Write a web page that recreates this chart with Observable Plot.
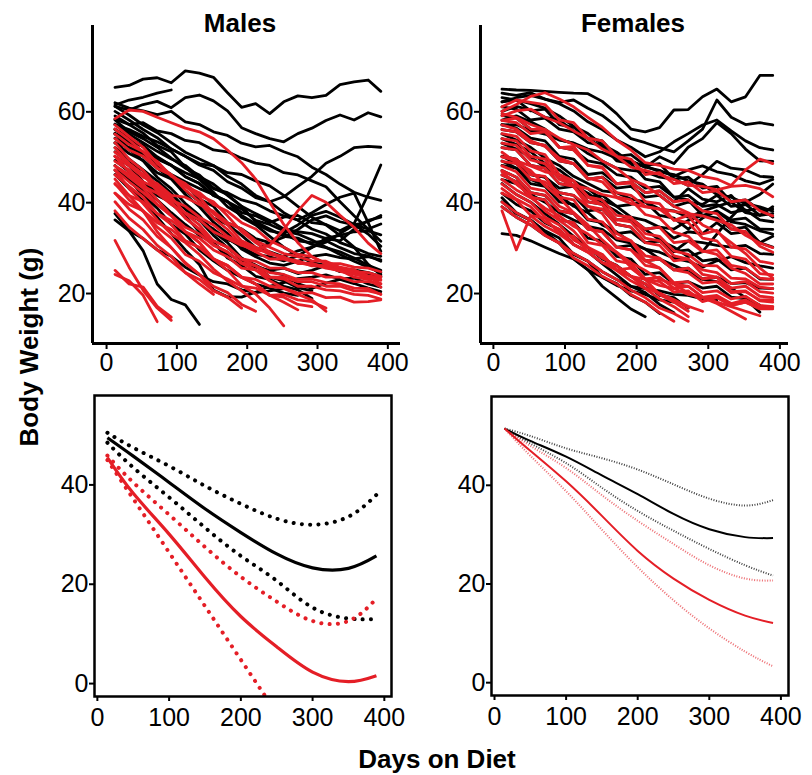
<!DOCTYPE html>
<html><head><meta charset="utf-8">
<script src="https://cdn.jsdelivr.net/npm/d3@7"></script>
<script src="https://cdn.jsdelivr.net/npm/@observablehq/plot@0.6"></script>
<style>
html,body{margin:0;padding:0;background:#fff;}
#root{position:relative;width:812px;height:775px;overflow:hidden;font-family:"Liberation Sans",Arial,sans-serif;background:#fff;}
.panel{position:absolute;}
.lbl{position:absolute;font-weight:bold;font-size:26px;line-height:1;color:#000;white-space:nowrap;}
</style></head><body><div id="root"></div>
<script>
// ---------- data ----------
const days = [12,32,52,72,92,112,132,152,172,192,212,232,252,272,292,312,332,352,372,390];
const xTicks = [0,100,200,300,400];
const yTicksTop = [20,40,60];
const yTicksBottom = [0,20,40];

const maleBlack = [
[65.4,65.8,67.2,67.5,66.4,69,68.5,67.6,64.2,61,61.8,59.6,62.2,63.5,63.1,63.6,66,66.6,67,64.5],
[61.5,62.6,63.2,64.1,64.8],
[61.2,60.4,61.6,62.3,60.9,63.1,63.7,62.4,60.2,56.5,55.2,54.1,53.4,55.2,56.4,58.1,59.3,58.2,59.8,58.9],
[62,60.8,60.2,59.4,60.1,57.8,57.2,55.6,54.8,53.1,52.3,52.6,51.2,50.1,47.8,46.2,44.1,42.3,41.2,40.5],
[57.2,56.1,54.6,53.4,51.8,50.2,48.3,47.1,44.6,43.2,41.1,40.2,41.3,43.6,45.8,48.7,50.2,52.1,52.4,52.2],
[55.3,53.6,52.4,49.8,48.3,45.7,44.2,41.6,40.2,37.8,37.1,35.6,36.8,37.2,35.6,35.2,33.8,35.4,41.8,48.3],
[58.4,57.2,57.6,55.8,55.2,53.7,53.2,51.6,51.2,49.8,48.7,48.2,46.6,46.1,44.8,43.5,40.2,37.1,34.2,31.5],
[37.6,33.8,29.4,22.1,18.7,17.5,13.2],
[46.2,43.1,40.4,36.8,33.2,29.6,26.4,20.8,19.3,19.2,20.3,21.6,22.4,23.3,23.6,24.1,23.2,23.4,22.1,21.4],
[59.1,57.2,55.3,52.6,51.2,47.8,45.1,42.3,39.1,37.2,35.3,33.8,33.2,31.6,31.2,31.6,30.1,28.8,28.3,27.1],
[56.2,54.1,52.3,49.6,48.2,45.7,44.2,41.6,40.3,36.8,35.1,32.6,30.2,28.4,26.8,26.2,25.4,25.1,24.2,23.6],
[55.1,53.2,50.6,48.4,45.8,44.1,40.8,39.2,35.6,34.2,32.1,31.2,32.4,34.1,36.2,37.1,35.8,35.1,34.2,35.3],
[54.2,51.6,50.2,47.6,45.3,42.6,40.2,36.6,35.2,32.8,30.1,29.2,28.1,29.4,30.2,31.3,33.2,35.1,35.8,37.2],
[57.3,55.1,53.2,51.3,49.6,48.2,45.7,44.1,41.6,39.2,35.8,34.2,32.6,32.2,30.8,30.1,29.2,27.8,26.2,25.1],
[53.2,50.8,49.3,46.6,45.2,41.8,39.1,35.7,33.2,29.8,28.1,26.7,26.2,27.1,28.2,28.6,27.9,27.6,28.1,27.4],
[52.1,49.6,47.2,44.8,42.1,38.6,36.2,32.8,30.1,27.6,26.2,24.8,24.1,22.2,21.1,22.3,23.1,22.2,21.2,20.4],
[50.2,48.1,44.6,42.2,39.8,37.1,33.6,31.2,27.8,26.2,23.8,23.1,21.6,20.8,18.9],
[55.2,51.8,49.2,45.6,43.1,39.8,37.2,33.6,31.2,27.8,26.2,23.6,22.8,21.3,20.6],
[60.1,58.2,56.1,54.3,51.8,50.2,48.6,48.1,46.6,46.2,44.8,43.7,41.6,39.2,36.8,35.1,32.8,30.2,26.4,24.1],
[61.2,59.3,57.1,55.4,53.2,51.1,49.6,48.2,45.8,44.1,41.6,40.2,37.8,36.1,34.2,33.1,31.2,30.1,28.8,28.2],
[49.3,46.8,44.2,41.6,40.1,37.6,36.2,33.8,32.1,30.2,28.6,28.1,27.2,28.3,30.1,32.2,32.8,33.6,33.8,32.9],
[36.2,33.8,32.1,29.6,28.2,25.8,24.1,22.6,22.1,20.8,20.2,20.6,21.1],
[47.1,45.2,42.8,40.6,37.8,35.2,32.8,31.1,28.6,27.2,25.8,25.1,25.6,24.4,25.1,26.2,24.8,25.2,24.6,23.8],
[51.2,48.8,47.1,43.6,41.2,38.6,36.1,34.2,31.8,31.1,29.6,31.2,33.4,35.1,37.2,38.1,36.8,35.2,33.1,30.4],
[53.1,52.2,50.8,48.1,46.2,44.6,43.1,41.8,40.2,38.6,36.1,35.2,33.8,33.1,31.8,30.2,28.6,27.1,25.8,24.6],
[58.2,55.6,54.1,52.2,49.8,47.6,46.1,43.2,41.8,39.2,37.6,36.1,34.2,33.6,33.2,32.1,31.6,34.2,36.1,36.8],
[48.2,45.1,41.6,38.8,35.2,33.1,29.6,27.2,25.1,23.6,22.1,21.2,20.1,19.6],
[56.1,54.2,52.6,50.1,48.2,46.6,45.2,43.1,42.2,40.6,39.8,38.2,37.1,36.2,37.8,39.6,41.2,42.1,35.6,29.3]
];

const maleRed = [
[58.5,60.4,60.1,58.8,57.6,56.4,55.6,54.1,51.6,48.8,45.2,40.1,35.2,31.2,28.1,26.6,25.4,24.6,23.4,22.9],
[48.1,46.2,43.6,42.1,39.6,37.8,36.2,33.6,32.1,30.6,29.8,30.6,34.1,38.2,41.6,40.1,37.2,34.6,31.1,28.8],
[25.1,22.1,21.4,17.2,14.8],
[24.2,22.8,19.6,13.8],
[31.7,25.8,20.7,16.8,14.1],
[50.2,46.8,44.1,40.6,37.2,33.6,31.2,27.6,25.1,21.8,19.9,16.8,12.9],
[52.1,48.6,46.2,42.8,40.1,36.6,34.2,30.8,29.1,26.6,25.2,22.8,21.1,19.8,18.6,16.1],
[45.2,41.6,38.2,33.6,30.1,26.8,24.2,20.6,19.2],
[49.1,47.2,44.6,43.1,40.6,39.2,36.8,35.1,32.6,31.2,29.6,29.1,27.8,27.2,26.1,26.2,25.1,25.2,23.8,23.6],
[47.2,44.6,42.2,39.6,37.2,34.6,33.1,30.6,29.2,26.8,26.1,24.6,24.2,23.1,23.2,22.4,22.1,21.2,21.1,19.8],
[55.1,52.8,51.2,47.6,46.1,42.8,40.2,36.6,34.1,30.8,29.2,27.6,27.6,26.8,26.6,25.8,25.6,24.8,24.6,23.8],
[44.2,40.6,38.1,34.6,32.2,28.6,27.1,24.6,23.2,21.6,21.2,19.6,19.8,18.6,18.2,16.8],
[50.2,48.1,45.6,44.2,41.6,41.2,39.6,38.1,35.6,34.2,31.6,30.2,28.8,28.1,27.2,27.1,25.8,25.2,23.8,22.1],
[42.1,38.6,36.2,32.6,30.1,26.6,24.2,21.6,20.2,17.6,16.1],
[46.1,43.6,41.2,37.6,35.2,31.6,30.1,27.6,26.2,23.6,23.1,21.6,21.2,20.1,20.2,19.1,19.2,18.1,18.2,18.6],
[40.2,36.6,34.1,30.6,28.2,24.6,22.1,19.8],
[53.2,49.6,47.1,43.6,41.2,37.6,35.1,31.6,30.2,27.6,26.1,23.6,23.2,21.6,21.6,20.8,20.6,19.8,19.6,18.8],
[48.1,45.6,43.2,39.6,37.1,33.6,31.2,27.6,26.1,23.6,22.1,19.6,19.2,17.6,17.1],
[57.1,54.6,52.2,48.6,46.1,43.6,42.2,39.6,38.1,35.6,34.2,31.6,30.2,28.6,28.1,26.6,26.6,25.8,25.6,24.8],
[44.1,41.6,40.2,37.6,36.1,33.6,32.2,29.6,28.1,25.6,25.2,23.6,23.6,22.6,22.6,21.6,21.6,20.6,20.6,19.9],
[51.1,48.6,46.2,42.6,40.1,36.6,34.2,31.6,30.2,27.6,27.1,25.6,25.6,24.6,24.6,23.6,23.6,22.6,22.6,22.2],
[38.2,34.6,32.1,29.6,27.1,24.6,23.1,20.6,19.2,16.8],
[42.1,39.6,38.2,35.6,34.1,31.6,30.2,27.6,26.1,23.6,22.1,19.6,18.1,16.4],
[54.1,51.6,50.2,47.6,46.1,43.6,41.2,37.6,35.1,31.6,30.2,28.6,28.1,26.6,26.6,25.6,25.1,23.6,23.1,21.4],
[47.2,43.1,39.8,36.2,33.1,31.2,28.6,25.4,22.8,20.6,18.2],
[56.2,53.8,51.2,49.1,45.8,44.2,41.6,40.2,37.1,33.6,31.2,29.1,27.6,26.8,26.2,25.8,24.9,24.2,23.6,23.1]
];

const femaleBlack = [
[65,64.8,64.7,64.5,64.3,64.1,64,62.3,59.6,56.2,55.6,56.5,60.4,60.5,63.3,65,62.2,63.3,68,68],
[64.1,63.6,64.2,62.8,62.1,62.6,60.8,59.2,56.8,54.1,53.2,52.1,51.2,53.6,56.2,62.6,58.8,57.2,57.6,57.1],
[62.2,63.1,63.6,62.8,61.8,60.2,57.8,56.1,53.8,52.2,50.1,51.2,53.4,55.2,57.1,58.2,55.8,53.6,52.1,51.6],
[60.1,61.2,60.4,58.8,58.2,55.8,54.1,52.2,49.6,49.2,47.8,50.1,48.6,52.2,54.1,57.6,55.2,51.8,49.2,49.1],
[58.2,59.1,57.8,56.2,53.8,53.1,50.8,49.2,47.6,47.1,46.8,45.6,45.2,43.8,46.2,49.1,47.6,47.2,45.8,45.6],
[63.1,62.6,60.2,60.6,57.2,56.6,54.2,53.6,50.2,50.6,48.2,48.6,45.2,45.6,43.2,43.6,40.2,40.6,38.4,38.6],
[57.2,56.4,54.2,53.6,50.2,49.6,46.2,46.6,44.2,44.6,42.2,42.6,40.2,43.1,40.8,40.2,41.6,38.2,38.8,36.8],
[55.1,53.8,52.2,49.8,48.2,45.8,44.2,42.6,42.2,40.8,40.2,38.6,38.2,36.8,38.1,39.2,40.1,37.8,37.2,39.1],
[50.2,49.6,46.2,45.6,43.2,43.6,41.2,41.6,39.2,39.6,40.2,37.2,36.6,34.2,36.6,38.2,36.2,36.6,34.2,34.1],
[52.1,51.6,48.2,47.6,44.2,43.6,40.2,39.6,36.2,36.6,34.2,34.6,32.2,33.6,33.2,35.6,33.2,33.6,31.2,32.6],
[48.2,47.6,44.2,43.6,40.2,39.6,36.2,35.6,33.2,33.6,31.2,31.6,29.2,31.6,31.2,30.6,30.2,30.6,28.8,28.6],
[54.1,52.8,51.2,48.6,47.2,44.8,43.1,40.6,39.2,36.8,36.1,34.6,34.2,36.1,37.2,38.1,35.8,35.2,33.8,33.1],
[33.2,32.8,31.6,30.2,28.8,27.6,25.2,23.6,21.8,20.6,19.8,18.6,18.1],
[46.1,44.6,41.2,40.6,36.2,35.6,32.2,31.6,28.2,27.6,24.2,24.6,22.2,22.6,21.2,21.6,19.2,18.8,15.9],
[44.2,41.8,40.1,37.6,35.2,32.6,30.1,27.6,26.2,23.8,22.1,19.6,19.1,16.8],
[42.1,39.6,38.2,35.6,34.1,30.8,29.2,26.6,24.1,21.6,20.2,17.6,15.8],
[40.2,37.6,36.1,33.8,32.2,28.6,27.1,23.6,22.2,19.6,18.1,15.6],
[41.1,37.8,36.2,33.6,31.1,27.6,25.2,21.6,19.1,16.6,14.9],
[56.1,55.6,53.2,52.6,49.2,48.6,45.2,45.6,43.2,43.6,41.2,41.6,39.2,40.1,39.6,41.6,39.2,39.6,37.2,37.6],
[59.2,58.6,56.2,55.6,52.2,51.6,49.2,48.6,46.2,45.6,43.2,43.6,41.2,41.6,39.2,39.6,37.8,38.4,36.2,35.8],
[61.1,60.6,58.2,58.6,56.2,55.6,53.2,52.6,49.2,48.6,45.2,44.6,41.2,40.6,37.2,36.6,34.2,34.6,31.2,30.2],
[50.2,48.6,46.2,45.6,42.2,41.6,38.2,38.6,35.2,34.6,31.2,31.6,29.2,29.6,27.2,27.6,25.2,25.6,23.2,23.1],
[47.1,45.6,42.2,41.6,38.2,37.6,34.2,33.6,30.2,30.6,27.2,27.6,25.2,25.6,23.2,23.6,22.2,22.4,21.2,21.1],
[53.1,51.8,50.1,47.8,46.1,43.8,42.1,39.8,38.1,35.8,34.1,31.8,30.2,28.1,29.2,33.1,36.8,40.1,41.8,44.1],
[45.1,44.2,41.8,40.1,37.8,36.2,34.8,34.1,31.8,31.1,29.8,29.1,27.8,27.1,25.8,27.2,28.1,26.8,26.1,25.6],
[39.1,36.8,35.1,32.8,31.1,28.8,27.1,24.8,23.1,21.6,21.1,20.6,19.8,19.6,18.8,18.6],
[57.1,57.2,55.8,55.1,53.8,53.1,51.8,51.1,49.8,49.1,47.8,47.1,45.8,47.2,48.1,46.8,46.2,44.8,44.1,45.1],
[62.2,62.6,61.8,60.8,59.1,56.8,55.2,52.8,51.1,48.8,48.1,46.8,46.2,44.8,44.1,41.8,41.2,39.8,39.1,38.1],
[49.2,47.6,45.1,43.8,41.6,39.2,37.8,35.1,33.6,31.2,29.8,27.6,26.2,24.8,23.1,22.6,21.2,19.1,17.4]
];

const femaleRed = [
[60.1,61.6,63.4,64.2,62.8,61.1,58.8,56.6,53.8,51.6,48.8,48.2,47.4,47.1,45.8,45.2,43.8,47.2,49.6,48.6],
[59.1,60.2,60.6,58.8,57.6,55.8,54.1,51.8,50.2,47.8,47.1,46.2,45.1,43.8,43.6,42.8,43.6,43.8,43.1,41.3],
[58.1,58.6,56.2,56.1,52.1,52.4,48.2,47.9,44.1,44.3,40.2,39.8,36.1,37.2,33.1,33.9,30.2,29.8,27.1,26.6],
[57.1,56.2,53.6,52.4,49.8,48.6,45.4,44.6,41.3,40.6,37.4,36.6,33.5,32.6,29.4,28.6,25.6,24.4,22.1,22.1],
[55.2,54.6,51.4,50.6,46.2,44.8,41.3,40.6,37.2,36.8,33.2,32.6,29.4,28.6,26.2,26.1,23.4,23.2,21.4,21.1],
[53.1,52.6,49.4,48.6,45.2,44.8,41.2,39.6,36.2,35.8,32.2,31.6,28.3,27.6,24.2,23.6,20.4,20.6,18.4,18.1],
[50.1,49.6,46.2,45.8,41.2,40.6,36.4,35.8,32.2,31.6,28.3,27.8,25.2,24.6,22.3,22.6,20.2,20.4,18.6,18.6],
[48.1,46.8,43.2,42.6,39.2,37.8,34.2,33.6,30.2,29.6,26.2,25.6,22.4,22.6,20.2,20.6,18.8,19.4,17.4,17.1],
[46.1,44.6,41.2,40.6,36.2,35.6,31.2,30.6,27.2,26.6,23.2,22.6,20.3,20.6,18.2,19.1,17.4,18.1,16.8,16.9],
[44.1,41.8,40.1,36.8,35.1,31.8,30.1,27.8,26.1,23.8,22.1,19.8,18.6,16.9],
[38.2,29.6,37.1,34.8,33.1,30.8,29.1,26.8,25.1,22.8,21.1,18.8,17.1,14.9],
[40.1,37.8,36.1,32.8,31.1,27.8,26.1,23.8,22.1,19.8,18.1,15.8,13.9],
[43.1,40.8,39.1,35.8,34.1,30.8,29.1,26.8,26.1,23.8,23.1,21.8,21.1,19.8,19.1,17.8,16.1,14.4],
[45.1,42.8,41.1,38.8,37.1,34.8,33.1,30.8,29.1,26.8,25.1,23.1,22.1,20.1,19.1,18.1,17.1,16.1,15.1],
[52.1,51.6,48.2,47.6,44.2,43.6,40.2,39.6,36.2,36.6,34.2,34.6,31.2,31.6,29.2,29.6,26.2,25.6,23.4,23.1],
[56.1,55.6,53.2,52.6,49.2,48.6,45.2,45.6,42.2,41.6,39.2,38.6,36.2,35.6,32.2,31.6,28.2,27.6,24.4,24.1],
[58.1,57.6,55.2,55.6,52.2,51.6,48.2,47.6,44.2,44.6,42.2,42.6,40.2,40.6,38.2,37.6,34.2,33.6,30.4,29.1],
[49.1,48.6,45.2,44.6,42.2,41.6,39.2,38.6,35.2,34.6,31.2,30.6,27.2,27.6,25.2,24.6,22.2,22.6,20.4,20.1],
[47.1,45.6,42.2,41.6,38.2,37.6,34.2,33.6,30.2,29.6,27.2,27.6,25.2,25.6,23.2,23.6,21.2,21.6,19.4,19.1],
[42.1,40.6,37.2,36.6,33.2,32.6,29.2,28.6,25.2,25.6,23.2,23.6,21.2,21.6,19.2,19.6,17.8,18.6,16.8,17.1],
[61.1,62.6,62.1,61.6,58.2,57.6,54.2,53.6,50.2,49.6,46.2,46.6,44.2,44.6,42.2,42.6,40.2,40.6,38.2,37.1],
[54.1,53.6,50.2,49.6,45.2,43.6,39.2,37.6,33.2,31.6,27.2,25.6,22.2,21.6,19.2,19.1,17.4,18.1,16.6,16.6],
[51.1,48.8,47.1,43.8,41.1,37.8,35.1,31.8,29.1,25.8,23.1,19.8,18.1,16.1],
[39.1,36.8,35.1,32.8,31.1,28.8,27.1,24.8,23.1,20.8,19.1,16.8,15.6,13.9],
[50.1,49.2,48.1,46.8,46.1,43.8,43.1,41.8,41.1,39.8,39.1,38.6,38.1,37.6,37.1,36.1,35.1,32.8,31.1,30.1],
[59.6,58.8,57.2,56.1,54.2,52.8,51.6,49.2,47.6,45.1,43.8,41.6,39.2,37.8,35.1,33.6,31.2,28.8,25.6,23.4],
[46.8,44.1,41.6,38.2,36.1,33.8,30.2,28.6,25.1,23.8,21.2,20.1,18.6,17.2,16.1]
];

// fitted curves (bottom row)
const fitDays = [14,50,100,150,200,250,300,350,389];
const maleBlackFit = [49.5,45.8,40.5,35.2,30.4,26.1,23.3,23.2,25.7];
const maleBlackHi  = [50.5,47.5,43.8,39.8,36.2,33.2,32.0,33.6,38.0];
const maleBlackLo  = [48.5,43.5,37.5,31.4,25.7,20.7,15.3,13.1,13.0];
const maleRedFit   = [45.5,38.3,30.1,21.4,13.5,7.4,2.3,0.4,1.6];
const maleRedHi    = [45.9,40.5,34.0,27.5,21.5,16.5,12.6,12.6,17.1];
const maleRedLo    = [45.0,37.2,26.4,15.6,4.8,-6.0,null,null,null];
const femaleBlackHi  = [51.5,50.0,47.5,45.5,43.2,40.2,37.3,35.9,37.0];
const femaleBlackFit = [51.5,49.0,45.8,42.0,38.2,34.2,31.1,29.5,29.3];
const femaleBlackLo  = [51.5,48.5,44.5,39.5,34.8,30.8,27.1,23.8,21.7];
const femaleRedHi    = [51.5,48.0,43.5,38.0,32.8,28.1,23.8,21.1,20.7];
const femaleRedFit   = [51.5,47.0,40.8,33.8,26.7,21.1,16.8,13.6,12.1];
const femaleRedLo    = [51.5,46.0,38.8,31.0,23.4,16.7,11.0,6.3,3.3];

// ---------- styling ----------
const BLACK = "#000000";
const RED = "#e41e26";
const FONT = "'Liberation Sans', Arial, Helvetica, sans-serif";
const TICK_FS = 25;

function rows(series) {
  const out = [];
  series.forEach((s, id) => s.forEach((w, j) => out.push({id, day: days[j], w})));
  return out;
}
function fit(ys) { return fitDays.map((d, i) => ({day: d, w: ys[i]})); }

function topPanel(black, red, mL, mR, xDom, yDom) {
  return Plot.plot({
    width: 406, height: 380,
    marginLeft: mL, marginRight: mR, marginTop: 25, marginBottom: 37,
    x: {domain: xDom, label: null},
    y: {domain: yDom, label: null},
    style: {fontFamily: FONT, fontSize: TICK_FS + "px", background: "transparent", overflow: "visible", color: "#000"},
    marks: [
      Plot.line(rows(black), {x: "day", y: "w", z: "id", stroke: BLACK, strokeWidth: 2.8, strokeLinejoin: "round"}),
      Plot.line(rows(red), {x: "day", y: "w", z: "id", stroke: RED, strokeWidth: 2.8, strokeLinejoin: "round"}),
      Plot.ruleX([xDom[0]], {stroke: BLACK, strokeWidth: 3}),
      Plot.ruleY([yDom[0]], {stroke: BLACK, strokeWidth: 3}),
      Plot.axisX({ticks: xTicks, tickSize: 6, tickPadding: 4, strokeWidth: 2, fontSize: TICK_FS, label: null}),
      Plot.axisY({ticks: yTicksTop, tickSize: 6, tickPadding: 1, strokeWidth: 2, fontSize: TICK_FS, label: null})
    ]
  });
}

function bottomPanel(sets, mL, mR, mT, mB, xDom, thick) {
  const marks = [];
  for (const s of sets) {
    const dotted = s.dotted;
    marks.push(Plot.line(fit(s.ys), {
      x: "day", y: "w", curve: "natural", clip: true,
      stroke: s.color,
      strokeWidth: thick ? (dotted ? 4 : 3.2) : 2,
      strokeDasharray: dotted ? (thick ? "0.1,8.2" : "1,1.6") : null,
      strokeLinecap: dotted ? (thick ? "round" : "butt") : "butt",
      strokeOpacity: (!thick && dotted) ? (s.color === RED ? 0.65 : 0.75) : 1
    }));
  }
  marks.push(Plot.frame({stroke: BLACK, strokeWidth: 2.5}));
  marks.push(Plot.axisX({ticks: xTicks, tickSize: 5, tickPadding: 7, strokeWidth: 2, fontSize: TICK_FS, label: null}));
  marks.push(Plot.axisY({ticks: yTicksBottom, tickSize: 5, tickPadding: 1, strokeWidth: 2, fontSize: TICK_FS, label: null}));
  return Plot.plot({
    width: 406, height: 395,
    marginLeft: mL, marginRight: mR, marginTop: mT, marginBottom: mB,
    x: {domain: xDom, label: null},
    y: {domain: [-2.6, 58], label: null},
    style: {fontFamily: FONT, fontSize: TICK_FS + "px", background: "transparent", overflow: "visible", color: "#000"},
    marks
  });
}

const root = document.getElementById("root");
function place(el, left, top) {
  el.classList.add("panel");
  el.style.left = left + "px";
  el.style.top = top + "px";
  root.appendChild(el);
}

place(topPanel(maleBlack, maleRed, 92, 6, [-20, 418], [9, 79]), 0, 0);
place(topPanel(femaleBlack, femaleRed, 74, 24, [-18, 412], [9, 79]), 406, 0);

place(bottomPanel([
  {ys: maleBlackHi, color: BLACK, dotted: true},
  {ys: maleBlackLo, color: BLACK, dotted: true},
  {ys: maleBlackFit, color: BLACK, dotted: false},
  {ys: maleRedHi, color: RED, dotted: true},
  {ys: maleRedLo, color: RED, dotted: true},
  {ys: maleRedFit, color: RED, dotted: false}
], 94, 15, 15, 79, [-4, 410], true), 0, 380);

place(bottomPanel([
  {ys: femaleBlackHi, color: BLACK, dotted: true},
  {ys: femaleBlackLo, color: BLACK, dotted: true},
  {ys: femaleBlackFit, color: BLACK, dotted: false},
  {ys: femaleRedHi, color: RED, dotted: true},
  {ys: femaleRedLo, color: RED, dotted: true},
  {ys: femaleRedFit, color: RED, dotted: false}
], 85, 24, 16, 80, [-4.2, 410.6], false), 406, 380);

function label(text, x, y, rotate) {
  const d = document.createElement("div");
  d.className = "lbl";
  d.textContent = text;
  d.style.left = x + "px";
  d.style.top = y + "px";
  d.style.transform = rotate ? "translate(-50%,-50%) rotate(-90deg)" : "translate(-50%,0)";
  root.appendChild(d);
}
label("Males", 240, 10, false);
label("Females", 633, 10, false);
label("Days on Diet", 437, 746, false);
label("Body Weight (g)", 29, 347, true);
</script></body></html>
